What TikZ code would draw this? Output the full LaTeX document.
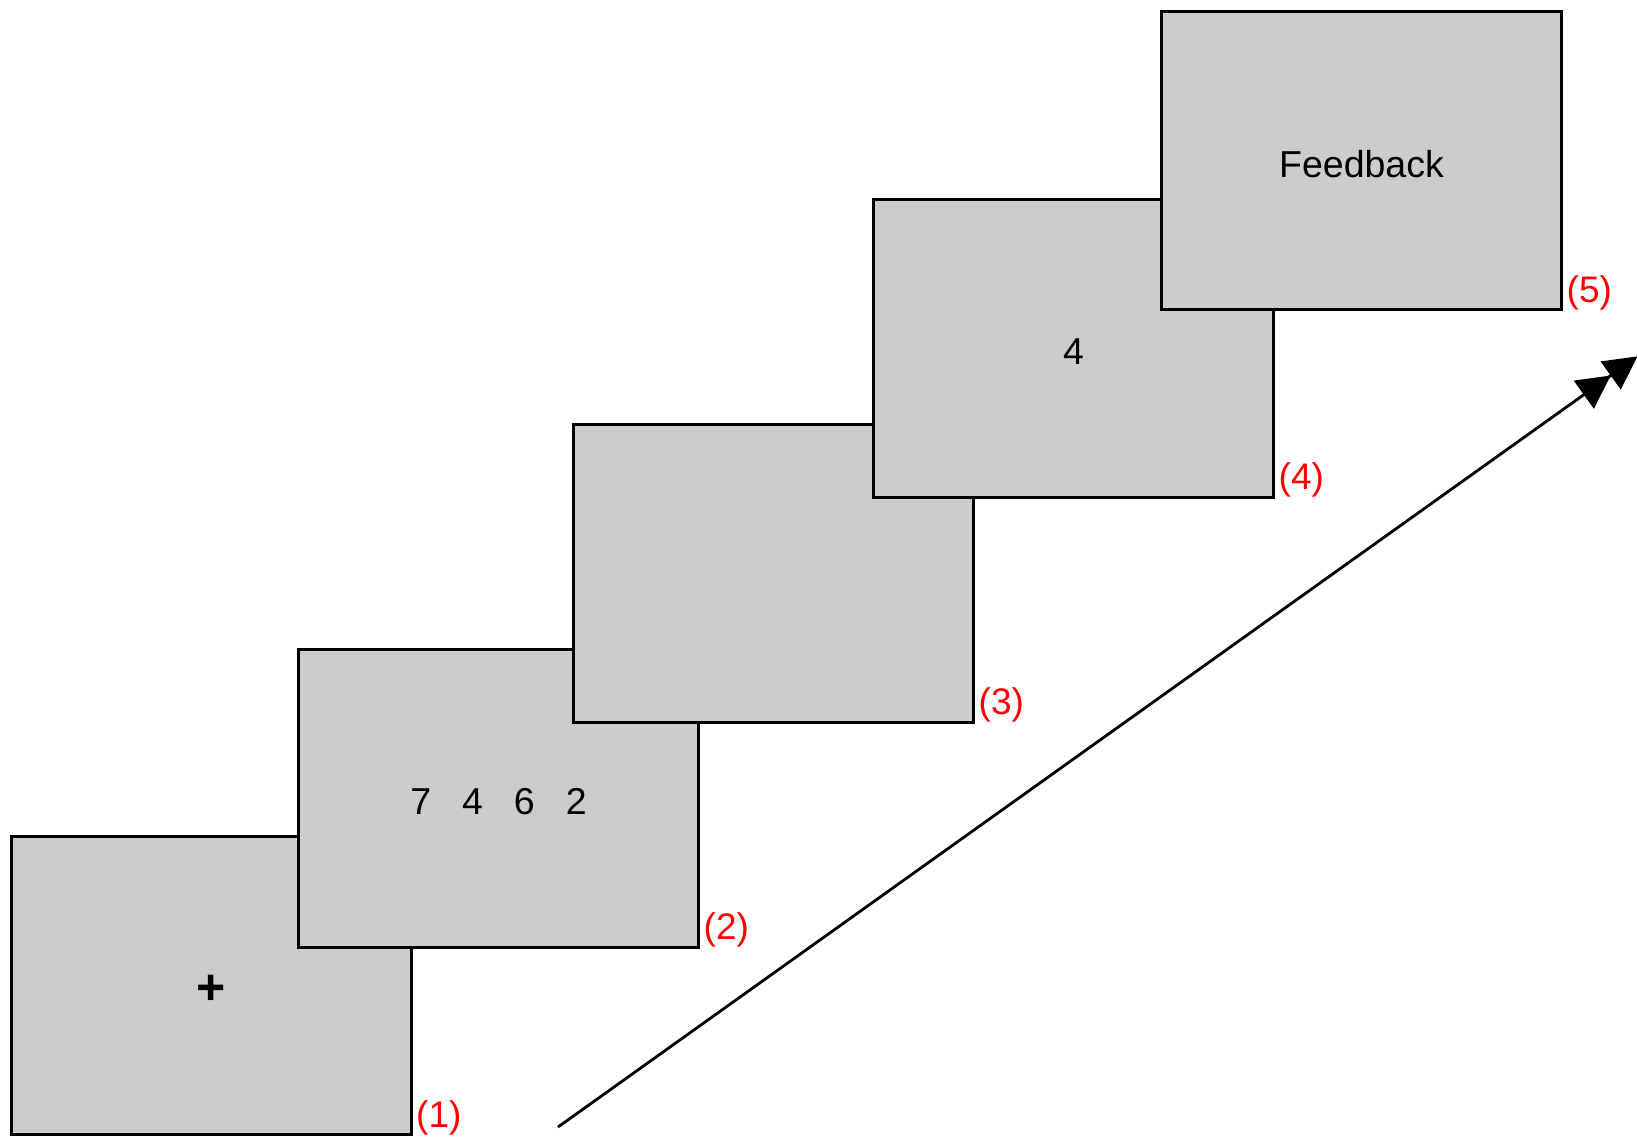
\documentclass[tikz,border=0pt]{standalone}
\usepackage{fontspec}
\setmainfont{Liberation Sans}
\usetikzlibrary{arrows.meta}
\begin{document}
\begin{tikzpicture}[x=1pt,y=-1pt,
  screen/.style={draw=black,line width=3pt,fill={rgb,255:red,204;green,204;blue,204},
    minimum width=400pt,minimum height=298pt,anchor=north west,inner sep=0pt,outer sep=0pt},
  txt/.style={inner sep=0pt,yshift=-4pt,font=\fontsize{37.5}{45}\selectfont},
  lbl/.style={text=red,anchor=south west,inner sep=0pt,xshift=5pt,yshift=-0.5pt,
    font=\fontsize{37}{44}\selectfont}]
\useasboundingbox (0,0) rectangle (1637,1144);
\node[screen] (s1) at (11,836.5) {};
\node[txt] (t1) at (s1.center) {\fontsize{50}{60}\selectfont\textbf{+}};
\node[screen] (s2) at (298.5,649) {};
\node[txt] (t2) at (s2.center) {7\hspace{31pt}4\hspace{31pt}6\hspace{31pt}2};
\node[screen] (s3) at (573.5,424) {};
\node[screen] (s4) at (873.5,199) {};
\node[txt] (t4) at (s4.center) {4};
\node[screen] (s5) at (1161.5,11.5) {};
\node[txt] (t5) at (s5.center) {Feedback};
\node[lbl] (l1) at (s1.south east) {(1)};
\node[lbl] (l2) at (s2.south east) {(2)};
\node[lbl] (l3) at (s3.south east) {(3)};
\node[lbl] (l4) at (s4.south east) {(4)};
\node[lbl] (l5) at (s5.south east) {(5)};
\coordinate (a0) at (558,1127);
\coordinate (a1) at (1631,361);
\draw[line width=2.8pt,-{Triangle[length=33pt,width=34pt]Triangle[length=33pt,width=34pt,sep=-8pt]}] (a0) -- (a1);
\end{tikzpicture}
\end{document}
